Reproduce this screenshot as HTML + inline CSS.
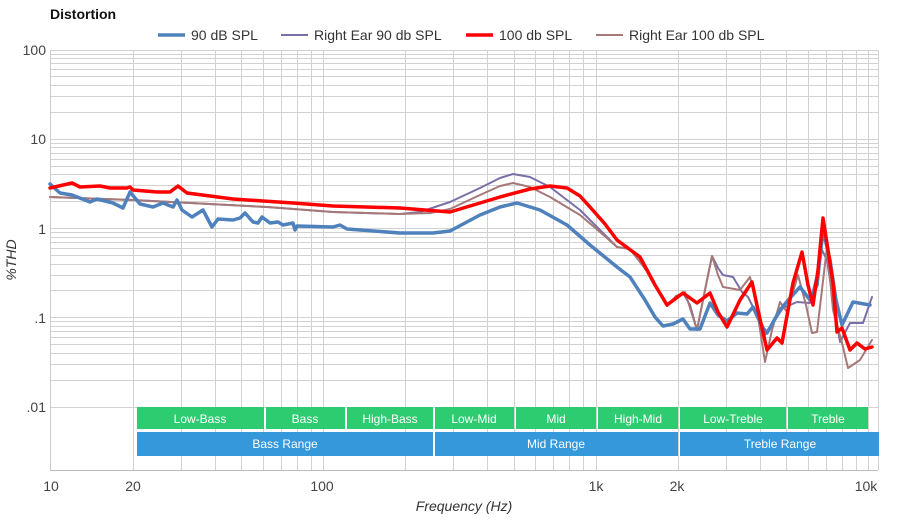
<!DOCTYPE html>
<html><head><meta charset="utf-8"><style>
body{margin:0;background:#fff;}
svg{display:block;font-family:"Liberation Sans",Arial,sans-serif;}
</style></head><body>
<svg width="900" height="520" viewBox="0 0 900 520" xmlns="http://www.w3.org/2000/svg">
<rect width="900" height="520" fill="#fff"/>
<g stroke="#d2d2d2" stroke-width="1">
<path d="M50 50.5H878M50 54.5H878M50 58.5H878M50 63.5H878M50 69.5H878M50 76.5H878M50 85.5H878M50 96.5H878M50 112.5H878M50 139.5H878M50 143.5H878M50 147.5H878M50 153.5H878M50 159.5H878M50 166.5H878M50 174.5H878M50 185.5H878M50 201.5H878M50 228.5H878M50 232.5H878M50 237.5H878M50 242.5H878M50 248.5H878M50 255.5H878M50 264.5H878M50 275.5H878M50 290.5H878M50 317.5H878M50 321.5H878M50 326.5H878M50 331.5H878M50 337.5H878M50 344.5H878M50 353.5H878M50 364.5H878M50 380.5H878M50 407.5H878"/>
<path d="M133.5 50V470M181.5 50V470M215.5 50V470M241.5 50V470M263.5 50V470M281.5 50V470M297.5 50V470M311.5 50V470M323.5 50V470M405.5 50V470M453.5 50V470M487.5 50V470M514.5 50V470M535.5 50V470M553.5 50V470M569.5 50V470M583.5 50V470M596.5 50V470M678.5 50V470M726.5 50V470M760.5 50V470M786.5 50V470M808.5 50V470M826.5 50V470M842.5 50V470M856.5 50V470M868.5 50V470M878.5 50V470"/>
</g>
<line x1="50" y1="470.5" x2="878" y2="470.5" stroke="#bbb"/>
<line x1="50.5" y1="50" x2="50.5" y2="470" stroke="#ccc"/>
<g fill="#2ecc71">
<rect x="137" y="407" width="127" height="22"/><rect x="266" y="407" width="79" height="22"/>
<rect x="347" y="407" width="86" height="22"/><rect x="435" y="407" width="79" height="22"/>
<rect x="516" y="407" width="80" height="22"/><rect x="598" y="407" width="80" height="22"/>
<rect x="680" y="407" width="106" height="22"/><rect x="788" y="407" width="80" height="22"/>
</g>
<g fill="#3498db">
<rect x="137" y="432" width="296" height="24"/><rect x="435" y="432" width="243" height="24"/><rect x="680" y="432" width="199" height="24"/>
</g>
<g fill="#fff" font-size="12" text-anchor="middle">
<text x="200" y="423">Low-Bass</text><text x="305" y="423">Bass</text><text x="390" y="423">High-Bass</text>
<text x="474" y="423">Low-Mid</text><text x="556" y="423">Mid</text><text x="638" y="423">High-Mid</text>
<text x="733" y="423">Low-Treble</text><text x="828" y="423">Treble</text>
<text x="285" y="448">Bass Range</text><text x="556" y="448">Mid Range</text><text x="780" y="448">Treble Range</text>
</g>
<g fill="#444" font-size="14" text-anchor="end">
<text x="46" y="55">100</text><text x="46" y="144">10</text><text x="46" y="234">1</text><text x="46" y="323">.1</text><text x="46" y="412">.01</text>
</g>
<g fill="#444" font-size="14" text-anchor="middle">
<text x="51" y="491">10</text><text x="133" y="491">20</text><text x="322" y="491">100</text><text x="596" y="491">1k</text><text x="677" y="491">2k</text><text x="866" y="491">10k</text>
</g>
<text x="464" y="511" font-size="14" font-style="italic" fill="#333" text-anchor="middle">Frequency (Hz)</text>
<text transform="translate(16,260) rotate(-90)" font-size="14" font-style="italic" fill="#333" text-anchor="middle">%THD</text>
<text x="50" y="19" font-size="14" font-weight="bold" fill="#111">Distortion</text>
<g font-size="14" fill="#333">
<line x1="158" y1="35" x2="185" y2="35" stroke="#4f81bd" stroke-width="3.5"/><text x="191" y="40">90 dB SPL</text>
<line x1="281" y1="35" x2="308" y2="35" stroke="#7a70a8" stroke-width="2"/><text x="314" y="40">Right Ear 90 db SPL</text>
<line x1="466" y1="35" x2="493" y2="35" stroke="#ff0000" stroke-width="3.5"/><text x="499" y="40">100 db SPL</text>
<line x1="596" y1="35" x2="623" y2="35" stroke="#a67878" stroke-width="2"/><text x="629" y="40">Right Ear 100 db SPL</text>
</g>
<g fill="none" stroke-linejoin="round" stroke-linecap="round">
<polyline stroke="#7a70a8" stroke-width="2" points="50,197 133,200 267,207 333,212 400,214 420,212 450,202 480,188 500,178 513,174 530,177 550,187 580,210 600,230 617,247 630,249 650,275 667,306 676,297 683,293 690,305 697,330 705,290 712,256 718,268 723,275 733,277 742,292 748,297 753,307 765,335 783,308 797,302 810,303 818,270 822,250 827,260 833,300 840,342 850,323 863,323 872,297"/>
<polyline stroke="#a67878" stroke-width="2" points="50,197 133,200 267,207 333,212 400,214 430,213 450,209 480,195 500,186 513,183 530,187 550,197 580,215 600,232 617,247 630,249 650,275 667,306 676,296 685,292 690,308 697,330 705,290 712,256 718,275 723,287 740,290 750,277 755,297 765,362 772,330 780,302 787,312 798,275 806,305 812,333 817,332 827,247 833,310 842,343 848,368 860,360 872,340"/>
<polyline stroke="#4f81bd" stroke-width="3.5" points="50,184 60,193 72,195 90,202 97,199 113,203 123,208 130,192 140,204 153,207 163,203 173,207 177,200 182,210 192,217 203,210 212,227 218,219 233,220 240,218 245,213 253,222 258,223 262,217 270,223 278,222 283,225 293,223 295,230 297,226 333,227 340,225 347,229 400,233 433,233 450,231 480,215 500,207 517,203 540,210 567,225 590,245 617,267 630,277 645,300 655,317 663,326 673,324 683,319 690,329 700,329 710,303 718,315 727,321 737,313 747,314 753,307 758,318 763,328 767,333 780,310 790,298 800,287 810,300 817,285 823,230 830,260 836,300 842,325 853,302 870,305"/>
<polyline stroke="#ff0000" stroke-width="3.5" points="50,188 72,183 80,187 100,186 110,188 127,188 130,187 133,190 157,192 170,192 178,186 187,193 233,199 263,201 293,203 333,206 400,208 450,212 500,197 530,189 550,186 567,188 580,196 590,207 605,224 617,240 640,257 655,285 667,305 683,293 697,303 710,293 718,312 727,327 740,300 752,282 758,310 767,350 777,338 782,343 793,283 802,252 808,285 813,305 818,270 823,218 828,250 833,283 837,332 842,328 850,350 857,343 865,349 872,347"/>
</g>
</svg>
</body></html>
